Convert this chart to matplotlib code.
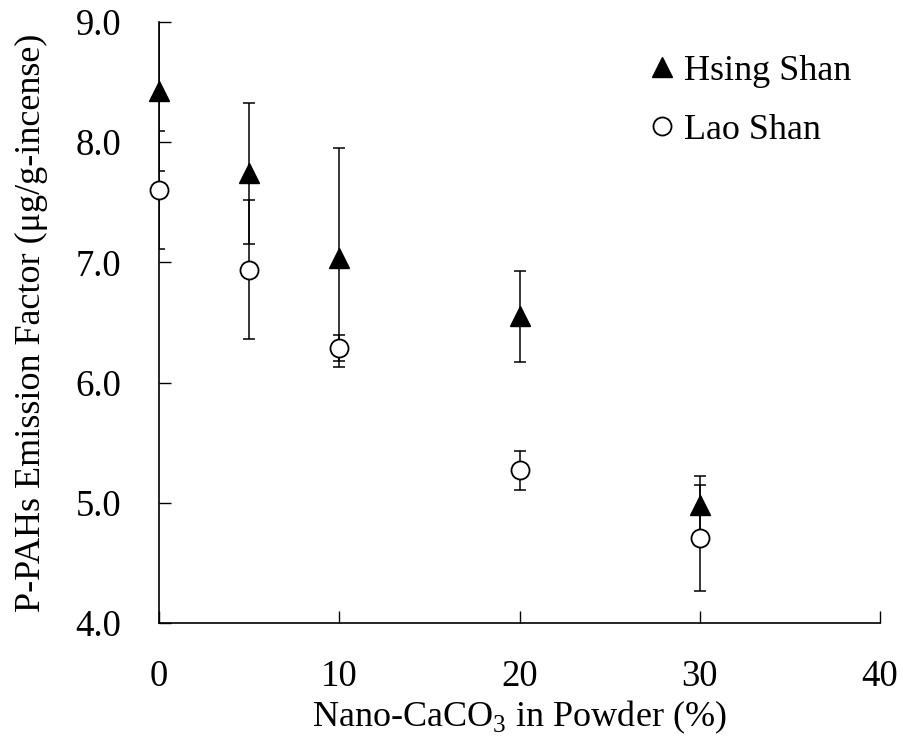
# P-PAHs emission factor vs nano-CaCO3 content
import numpy as np
import matplotlib
matplotlib.use("Agg")
import matplotlib.pyplot as plt

plt.rcParams['font.family'] = ['Liberation Serif', 'DejaVu Serif']
plt.rcParams['mathtext.fontset'] = 'custom'
plt.rcParams['mathtext.rm'] = 'Liberation Serif'

# Datos
nano_caco3 = [0, 5, 10, 20, 30]
hsing_shan = [8.43, 7.74, 7.04, 6.55, 4.98]
hsing_err = [0.67, 0.59, 0.91, 0.38, 0.24]
lao_shan = [7.60, 6.94, 6.29, 5.27, 4.71]
lao_err = [0.49, 0.58, 0.11, 0.16, 0.44]

x_ticks = [0, 10, 20, 30, 40]
y_ticks = [4.0, 5.0, 6.0, 7.0, 8.0, 9.0]

fig = plt.figure(figsize=(9.04, 7.46), dpi=100)
ax = fig.add_axes([0.1759, 0.1649, 0.7976, 0.8056])

# Barras de error (recortadas al area del grafico)
ax.errorbar(nano_caco3, hsing_shan, yerr=hsing_err, fmt='none', ecolor='black',
            capsize=4, elinewidth=1.1, capthick=1.1)
ax.errorbar(nano_caco3, lao_shan, yerr=lao_err, fmt='none', ecolor='black',
            capsize=4, elinewidth=1.1, capthick=1.1)

# Marcadores (sin recorte para que se vean completos en x=0)
ax.plot(nano_caco3, hsing_shan, '^', color='black', markersize=14,
        clip_on=False, zorder=3, label='Hsing Shan')
ax.plot(nano_caco3, lao_shan, 'o', color='black', markerfacecolor='white',
        markeredgewidth=1.3, markersize=13, clip_on=False, zorder=3,
        label='Lao Shan')

ax.set_xlim(0, 40)
ax.set_ylim(4.0, 9.0)
ax.set_xticks(x_ticks)
ax.set_yticks(y_ticks)
ax.set_yticklabels([f"{v:.1f}" for v in y_ticks])

for s in ['top', 'right']:
    ax.spines[s].set_visible(False)
for s in ['left', 'bottom']:
    ax.spines[s].set_linewidth(1.2)

ax.tick_params(axis='both', direction='in', length=8.5, width=1.0, labelsize=26.5)
ax.tick_params(axis='x', pad=26)
ax.tick_params(axis='y', pad=27)

ax.set_xlabel(r'Nano-CaCO$_3$ in Powder (%)', fontsize=26, labelpad=4)
ax.set_ylabel('P-PAHs Emission Factor (μg/g-incense)', fontsize=26, labelpad=20)

leg = ax.legend(loc='upper left', bbox_to_anchor=(0.628, 1.0), frameon=False,
                fontsize=26, labelspacing=0.72, handletextpad=0.1,
                handlelength=1.0)

fig.savefig("out.png", dpi=100)
